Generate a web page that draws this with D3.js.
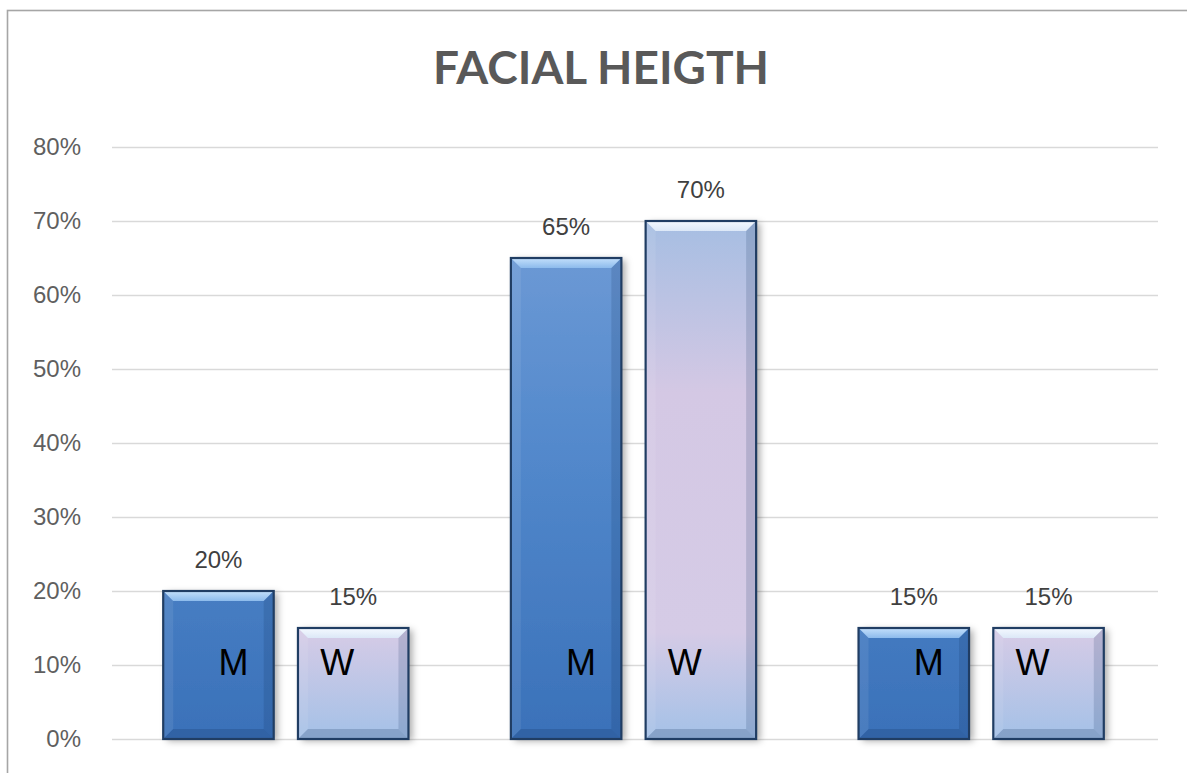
<!DOCTYPE html>
<html>
<head>
<meta charset="utf-8">
<script src="https://cdn.jsdelivr.net/npm/d3@7"></script>
<style>
  html, body { margin: 0; padding: 0; background: #fff; }
  svg { display: block; }
</style>
</head>
<body>
<svg id="chart" width="1187" height="773"></svg>
<script>
// Chart data
const title = "FACIAL HEIGTH";
const groups = ["Group 1", "Group 2", "Group 3"];
const seriesKeys = ["M", "W"];
const menValues = [0.20, 0.65, 0.15];
const womenValues = [0.15, 0.70, 0.15];
const yTicks = [0, 0.1, 0.2, 0.3, 0.4, 0.5, 0.6, 0.7, 0.8];

const rows = groups.map((g, i) => ({
  group: g,
  values: [
    { key: "M", value: menValues[i] },
    { key: "W", value: womenValues[i] }
  ]
}));

const svg = d3.select("#chart");
const W = 1187, H = 773;
const plot = { left: 112, right: 1158, top: 147, bottom: 739 };

// Outer chart border
svg.append("rect")
  .attr("x", 7.5).attr("y", 10.5)
  .attr("width", W + 20).attr("height", H + 20)
  .attr("fill", "#fff")
  .attr("stroke", "#a6a6a6").attr("stroke-width", 1.6);

const x0 = d3.scaleBand().domain(groups).range([plot.left, plot.right - 3]).paddingInner(0).paddingOuter(0);
const x1 = d3.scaleBand().domain(seriesKeys).range([0, x0.bandwidth()]).paddingInner(0.18).paddingOuter(0.38);
const y = d3.scaleLinear().domain([0, 0.8]).range([plot.bottom, plot.top]);

const defs = svg.append("defs");

// Fills span the value range so each bar shows its own slice of the gradient
function addGradient(id, stops) {
  const g = defs.append("linearGradient")
    .attr("id", id)
    .attr("gradientUnits", "userSpaceOnUse")
    .attr("x1", 0).attr("x2", 0)
    .attr("y1", y(0.72)).attr("y2", y(0));
  stops.forEach(s => g.append("stop").attr("offset", s[0]).attr("stop-color", s[1]));
}
addGradient("fill-M", [[0, "#729dd7"], [0.45, "#5389cc"], [1, "#3a71b9"]]);
addGradient("fill-W", [[0, "#a2bde2"], [0.35, "#d4c8e4"], [0.8, "#d5cbe6"], [1, "#a4c1e7"]]);

function addBevelGradient(id, top, bottom) {
  const g = defs.append("linearGradient").attr("id", id)
    .attr("x1", 0).attr("x2", 0).attr("y1", 0).attr("y2", 1);
  g.append("stop").attr("offset", 0).attr("stop-color", top);
  g.append("stop").attr("offset", 1).attr("stop-color", bottom);
}
addBevelGradient("bevel-M", "#c4e0fb", "#8dbbec");
addBevelGradient("bevel-W", "#f4f9ff", "#dce8f7");

const shadow = defs.append("filter").attr("id", "barShadow")
  .attr("x", "-20%").attr("y", "-10%").attr("width", "150%").attr("height", "130%");
shadow.append("feDropShadow")
  .attr("dx", 4).attr("dy", 2).attr("stdDeviation", 3.5)
  .attr("flood-color", "#000").attr("flood-opacity", 0.33);

// Horizontal gridlines
svg.append("g")
  .selectAll("line")
  .data(yTicks)
  .join("line")
  .attr("x1", plot.left).attr("x2", plot.right)
  .attr("y1", d => Math.round(y(d)) + 0.5).attr("y2", d => Math.round(y(d)) + 0.5)
  .attr("stroke", "#d9d9d9").attr("stroke-width", 1.5);

// Y axis tick labels
const yAxis = d3.axisLeft(y).tickValues(yTicks).tickFormat(d3.format(".0%")).tickSize(0).tickPadding(0);
const yAxisG = svg.append("g")
  .attr("transform", `translate(${plot.left - 31},0)`)
  .call(yAxis);
yAxisG.select(".domain").remove();
yAxisG.selectAll("text")
  .attr("font-family", "'Liberation Sans', Arial, sans-serif")
  .attr("font-size", 24)
  .attr("fill", "#5f5f5f")
  .attr("dy", "0.32em");

// Title
const titleText = svg.append("text")
  .attr("x", 601).attr("y", 84)
  .attr("text-anchor", "middle")
  .attr("font-family", "Lato, 'Open Sans', sans-serif")
  .attr("font-weight", 700)
  .attr("font-size", 42)
  .attr("fill", "#595959")
  .text(title);
const tw = titleText.node().getComputedTextLength();
titleText.attr("font-size", 42 * 336 / tw);

// Bars
const groupsG = svg.append("g")
  .selectAll("g")
  .data(rows)
  .join("g")
  .attr("transform", d => `translate(${x0(d.group)},0)`);

const bars = groupsG.selectAll("g.bar")
  .data(d => d.values)
  .join("g")
  .attr("class", "bar");

bars.each(function (d) {
  const g = d3.select(this);
  const bx = x1(d.key);
  const bw = x1.bandwidth();
  const by = y(d.value);
  const bh = y(0) - by;
  const b = Math.min(10, bh / 2);

  const body = g.append("g").attr("filter", "url(#barShadow)");
  body.append("rect")
    .attr("x", bx).attr("y", by).attr("width", bw).attr("height", bh)
    .attr("fill", `url(#fill-${d.key})`);

  const pts = a => a.map(p => p.join(",")).join(" ");
  // top bevel (highlight)
  g.append("polygon")
    .attr("points", pts([[bx, by], [bx + bw, by], [bx + bw - b, by + b], [bx + b, by + b]]))
    .attr("fill", `url(#bevel-${d.key})`);
  // left bevel
  g.append("polygon")
    .attr("points", pts([[bx, by], [bx + b, by + b], [bx + b, by + bh - b], [bx, by + bh]]))
    .attr("fill", "#ffffff").attr("fill-opacity", 0.08);
  // right bevel
  g.append("polygon")
    .attr("points", pts([[bx + bw, by], [bx + bw - b, by + b], [bx + bw - b, by + bh - b], [bx + bw, by + bh]]))
    .attr("fill", "#0a2a55").attr("fill-opacity", 0.16);
  // bottom bevel
  g.append("polygon")
    .attr("points", pts([[bx, by + bh], [bx + b, by + bh - b], [bx + bw - b, by + bh - b], [bx + bw, by + bh]]))
    .attr("fill", "#0a2a55").attr("fill-opacity", 0.2);
  // outline
  g.append("rect")
    .attr("x", bx).attr("y", by).attr("width", bw).attr("height", bh)
    .attr("fill", "none")
    .attr("stroke", "#203d63").attr("stroke-width", 2.2);

  // value label
  g.append("text")
    .attr("x", bx + bw / 2).attr("y", by - 23)
    .attr("text-anchor", "middle")
    .attr("font-family", "'Liberation Sans', Arial, sans-serif")
    .attr("font-size", 24)
    .attr("fill", "#404040")
    .text(d3.format(".0%")(d.value));

  // series letter inside the bar
  g.append("text")
    .attr("x", bx + bw / 2 + (d.key === "M" ? 15 : -16)).attr("y", y(0.1) + 10)
    .attr("text-anchor", "middle")
    .attr("font-family", "'Liberation Sans', Arial, sans-serif")
    .attr("font-size", 36)
    .attr("fill", "#000")
    .text(d.key);
});
</script>
</body>
</html>
